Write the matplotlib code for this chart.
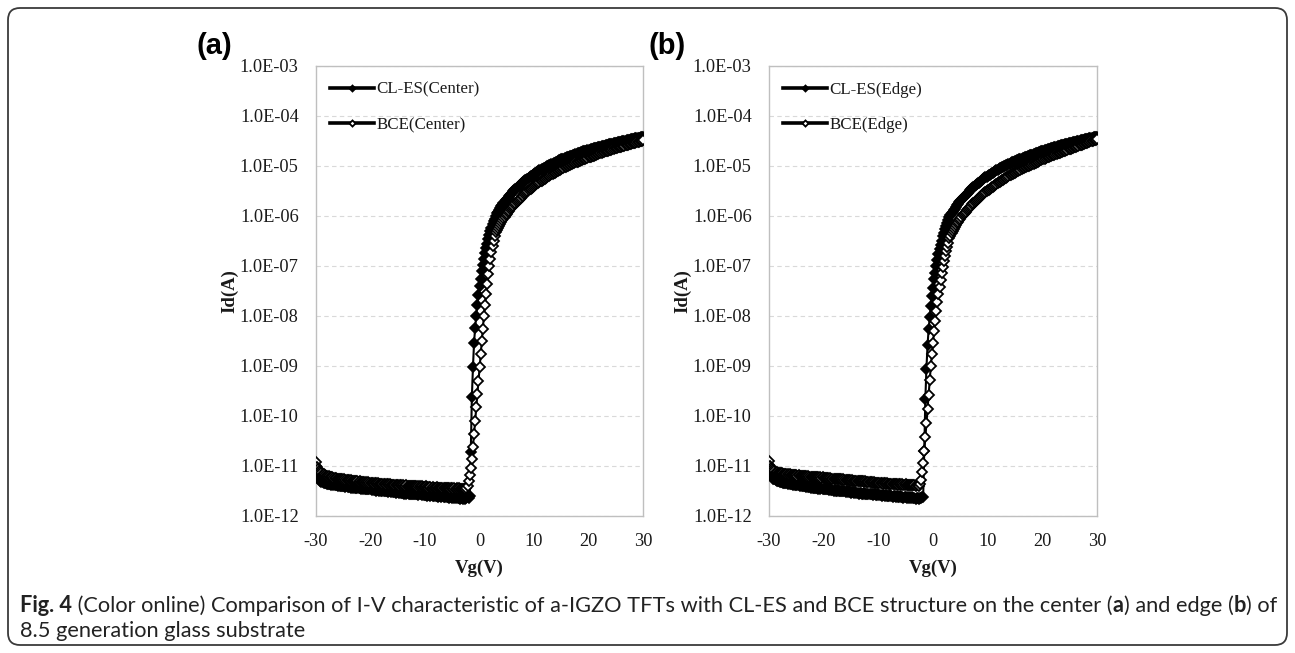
import numpy as np
import matplotlib
matplotlib.use("Agg")
import matplotlib.pyplot as plt
from matplotlib.patches import FancyBboxPatch
from matplotlib.transforms import IdentityTransform
from matplotlib.ticker import NullLocator
from matplotlib.font_manager import FontProperties

# ---------------- data ----------------
VG_START, VG_STOP, VG_STEP = -30.0, 30.0, 0.2
vg = np.round(np.arange(VG_START, VG_STOP + VG_STEP / 2, VG_STEP), 1)

id_cles_center = [
    1.0e-11, 7.4e-12, 6.2e-12, 5.5e-12, 5.1e-12, 4.8e-12, 4.7e-12, 4.6e-12, 4.5e-12, 4.5e-12,
    4.4e-12, 4.4e-12, 4.3e-12, 4.4e-12, 4.2e-12, 4.3e-12, 4.2e-12, 4.1e-12, 4.2e-12, 4.1e-12,
    4.0e-12, 4.1e-12, 4.0e-12, 3.9e-12, 4.0e-12, 3.9e-12, 4.0e-12, 3.8e-12, 3.9e-12, 3.8e-12,
    3.8e-12, 3.9e-12, 3.7e-12, 3.8e-12, 3.7e-12, 3.8e-12, 3.6e-12, 3.7e-12, 3.7e-12, 3.6e-12,
    3.6e-12, 3.5e-12, 3.6e-12, 3.5e-12, 3.6e-12, 3.4e-12, 3.5e-12, 3.5e-12, 3.4e-12, 3.5e-12,
    3.4e-12, 3.3e-12, 3.4e-12, 3.3e-12, 3.4e-12, 3.2e-12, 3.3e-12, 3.3e-12, 3.2e-12, 3.3e-12,
    3.2e-12, 3.1e-12, 3.2e-12, 3.2e-12, 3.1e-12, 3.2e-12, 3.0e-12, 3.1e-12, 3.1e-12, 3.0e-12,
    3.1e-12, 3.0e-12, 3.0e-12, 2.9e-12, 3.0e-12, 3.0e-12, 2.9e-12, 3.0e-12, 2.9e-12, 2.9e-12,
    2.9e-12, 2.8e-12, 2.9e-12, 2.8e-12, 2.9e-12, 2.8e-12, 2.8e-12, 2.7e-12, 2.8e-12, 2.8e-12,
    2.7e-12, 2.8e-12, 2.7e-12, 2.7e-12, 2.6e-12, 2.7e-12, 2.7e-12, 2.6e-12, 2.7e-12, 2.6e-12,
    2.6e-12, 2.6e-12, 2.5e-12, 2.6e-12, 2.6e-12, 2.5e-12, 2.6e-12, 2.5e-12, 2.5e-12, 2.6e-12,
    2.5e-12, 2.5e-12, 2.4e-12, 2.5e-12, 2.5e-12, 2.4e-12, 2.5e-12, 2.4e-12, 2.4e-12, 2.5e-12,
    2.4e-12, 2.4e-12, 2.3e-12, 2.4e-12, 2.4e-12, 2.3e-12, 2.4e-12, 2.3e-12, 2.3e-12, 2.4e-12,
    2.3e-12, 2.3e-12, 2.2e-12, 2.3e-12, 2.3e-12, 2.2e-12, 2.3e-12, 2.2e-12, 2.3e-12, 2.4e-12,
    2.3e-12, 2.5e-12, 1.9e-11, 2.4e-10, 9.5e-10, 2.9e-9, 5.8e-9, 1.0e-8, 1.66e-8, 2.6e-8,
    3.9e-8, 5.6e-8, 7.8e-8, 1.05e-7, 1.38e-7, 1.78e-7, 2.24e-7, 2.75e-7, 3.4e-7, 4.1e-7,
    4.9e-7, 5.75e-7, 6.8e-7, 7.8e-7, 8.9e-7, 1.02e-6,
    1.13e-6, 1.23e-6, 1.34e-6, 1.44e-6, 1.55e-6,
    1.68e-6, 1.81e-6, 1.93e-6, 2.06e-6, 2.19e-6,
    2.34e-6, 2.49e-6, 2.64e-6, 2.80e-6, 2.95e-6,
    3.12e-6, 3.29e-6, 3.46e-6, 3.63e-6, 3.80e-6,
    4.0e-6, 4.2e-6, 4.4e-6, 4.6e-6, 4.79e-6,
    4.98e-6, 5.17e-6, 5.37e-6, 5.56e-6, 5.75e-6,
    5.98e-6, 6.22e-6, 6.45e-6, 6.69e-6, 6.92e-6,
    7.16e-6, 7.4e-6, 7.65e-6, 7.89e-6, 8.13e-6,
    8.37e-6, 8.61e-6, 8.85e-6, 9.09e-6, 9.33e-6,
    9.6e-6, 9.9e-6, 1.02e-5, 1.05e-5, 1.07e-5,
    1.10e-5, 1.12e-5, 1.15e-5, 1.17e-5, 1.20e-5,
    1.23e-5, 1.26e-5, 1.29e-5, 1.32e-5, 1.35e-5,
    1.38e-5, 1.40e-5, 1.43e-5, 1.45e-5, 1.48e-5,
    1.51e-5, 1.54e-5, 1.56e-5, 1.59e-5, 1.62e-5,
    1.65e-5, 1.68e-5, 1.72e-5, 1.75e-5, 1.78e-5,
    1.81e-5, 1.85e-5, 1.88e-5, 1.92e-5, 1.95e-5,
    1.98e-5, 2.01e-5, 2.03e-5, 2.06e-5, 2.09e-5,
    2.12e-5, 2.15e-5, 2.18e-5, 2.21e-5, 2.24e-5,
    2.27e-5, 2.30e-5, 2.34e-5, 2.37e-5, 2.40e-5,
    2.43e-5, 2.47e-5, 2.50e-5, 2.54e-5, 2.57e-5,
    2.61e-5, 2.64e-5, 2.68e-5, 2.71e-5, 2.75e-5,
    2.78e-5, 2.80e-5, 2.83e-5, 2.85e-5, 2.88e-5,
    2.92e-5, 2.96e-5, 3.00e-5, 3.05e-5, 3.09e-5,
    3.12e-5, 3.15e-5, 3.18e-5, 3.21e-5, 3.24e-5,
    3.29e-5, 3.33e-5, 3.38e-5, 3.42e-5, 3.47e-5,
    3.50e-5, 3.53e-5, 3.57e-5, 3.60e-5, 3.63e-5,
    3.66e-5, 3.70e-5, 3.73e-5, 3.77e-5, 3.80e-5,
]

id_bce_center = [
    1.2e-11, 9.6e-12, 8.6e-12, 8.0e-12, 7.6e-12, 7.3e-12, 7.0e-12, 6.8e-12, 6.6e-12, 6.4e-12,
    6.3e-12, 6.1e-12, 6.2e-12, 6.0e-12, 5.9e-12, 6.0e-12, 5.8e-12, 5.7e-12, 5.8e-12, 5.6e-12,
    5.6e-12, 5.5e-12, 5.6e-12, 5.4e-12, 5.5e-12, 5.3e-12, 5.4e-12, 5.3e-12, 5.2e-12, 5.3e-12,
    5.2e-12, 5.1e-12, 5.2e-12, 5.0e-12, 5.1e-12, 5.0e-12, 4.9e-12, 5.0e-12, 4.9e-12, 4.8e-12,
    4.9e-12, 4.8e-12, 4.7e-12, 4.8e-12, 4.7e-12, 4.6e-12, 4.7e-12, 4.6e-12, 4.7e-12, 4.5e-12,
    4.6e-12, 4.5e-12, 4.6e-12, 4.4e-12, 4.5e-12, 4.5e-12, 4.4e-12, 4.5e-12, 4.3e-12, 4.4e-12,
    4.4e-12, 4.3e-12, 4.4e-12, 4.3e-12, 4.2e-12, 4.3e-12, 4.3e-12, 4.2e-12, 4.3e-12, 4.2e-12,
    4.2e-12, 4.1e-12, 4.2e-12, 4.2e-12, 4.1e-12, 4.2e-12, 4.0e-12, 4.1e-12, 4.1e-12, 4.0e-12,
    4.1e-12, 4.0e-12, 4.0e-12, 4.1e-12, 3.9e-12, 4.0e-12, 4.0e-12, 3.9e-12, 4.0e-12, 3.9e-12,
    3.9e-12, 4.0e-12, 3.9e-12, 3.8e-12, 3.9e-12, 3.9e-12, 3.8e-12, 3.9e-12, 3.8e-12, 3.8e-12,
    3.8e-12, 3.9e-12, 3.8e-12, 3.7e-12, 3.8e-12, 3.8e-12, 3.7e-12, 3.8e-12, 3.7e-12, 3.7e-12,
    3.7e-12, 3.8e-12, 3.7e-12, 3.6e-12, 3.7e-12, 3.7e-12, 3.6e-12, 3.7e-12, 3.6e-12, 3.6e-12,
    3.6e-12, 3.7e-12, 3.6e-12, 3.5e-12, 3.6e-12, 3.6e-12, 3.5e-12, 3.6e-12, 3.5e-12, 3.6e-12,
    3.5e-12, 3.6e-12, 3.5e-12, 3.5e-12, 3.4e-12, 3.5e-12, 3.5e-12, 3.4e-12, 3.55e-12, 4.0e-12,
    5.0e-12, 6.6e-12, 9.3e-12, 1.41e-11, 2.4e-11, 4.3e-11, 7.9e-11, 1.48e-10, 2.75e-10, 5.1e-10,
    9.5e-10, 1.74e-9, 3.16e-9, 5.6e-9, 9.8e-9, 1.66e-8, 2.75e-8, 4.4e-8, 6.8e-8, 1.0e-7,
    1.41e-7, 1.9e-7, 2.5e-7, 3.16e-7, 3.9e-7, 4.7e-7,
    5.26e-7, 5.85e-7, 6.43e-7, 7.01e-7, 7.59e-7,
    8.3e-7, 9.0e-7, 9.6e-7, 1.03e-6, 1.10e-6,
    1.18e-6, 1.26e-6, 1.35e-6, 1.43e-6, 1.51e-6,
    1.61e-6, 1.71e-6, 1.80e-6, 1.90e-6, 2.0e-6,
    2.11e-6, 2.23e-6, 2.34e-6, 2.46e-6, 2.57e-6,
    2.70e-6, 2.84e-6, 2.97e-6, 3.11e-6, 3.24e-6,
    3.39e-6, 3.54e-6, 3.68e-6, 3.83e-6, 3.98e-6,
    4.14e-6, 4.30e-6, 4.47e-6, 4.63e-6, 4.79e-6,
    4.96e-6, 5.12e-6, 5.29e-6, 5.45e-6, 5.62e-6,
    5.82e-6, 6.02e-6, 6.21e-6, 6.41e-6, 6.61e-6,
    6.81e-6, 7.0e-6, 7.2e-6, 7.39e-6, 7.59e-6,
    7.81e-6, 8.04e-6, 8.26e-6, 8.49e-6, 8.71e-6,
    8.97e-6, 9.23e-6, 9.48e-6, 9.74e-6, 1.0e-5,
    1.02e-5, 1.05e-5, 1.07e-5, 1.10e-5, 1.12e-5,
    1.14e-5, 1.16e-5, 1.19e-5, 1.21e-5, 1.23e-5,
    1.25e-5, 1.28e-5, 1.30e-5, 1.33e-5, 1.35e-5,
    1.38e-5, 1.40e-5, 1.43e-5, 1.45e-5, 1.48e-5,
    1.51e-5, 1.54e-5, 1.56e-5, 1.59e-5, 1.62e-5,
    1.65e-5, 1.68e-5, 1.72e-5, 1.75e-5, 1.78e-5,
    1.81e-5, 1.85e-5, 1.88e-5, 1.92e-5, 1.95e-5,
    1.98e-5, 2.01e-5, 2.03e-5, 2.06e-5, 2.09e-5,
    2.13e-5, 2.17e-5, 2.21e-5, 2.25e-5, 2.29e-5,
    2.32e-5, 2.35e-5, 2.39e-5, 2.42e-5, 2.45e-5,
    2.49e-5, 2.52e-5, 2.56e-5, 2.59e-5, 2.63e-5,
    2.67e-5, 2.71e-5, 2.74e-5, 2.78e-5, 2.82e-5,
    2.86e-5, 2.90e-5, 2.94e-5, 2.98e-5, 3.02e-5,
    3.06e-5, 3.11e-5, 3.15e-5, 3.20e-5, 3.24e-5,
]

id_cles_edge = [
    1.05e-11, 7.8e-12, 6.6e-12, 6.0e-12, 5.6e-12, 5.4e-12, 5.2e-12, 5.1e-12, 5.0e-12, 4.9e-12,
    4.8e-12, 4.7e-12, 4.8e-12, 4.6e-12, 4.6e-12, 4.5e-12, 4.6e-12, 4.4e-12, 4.5e-12, 4.4e-12,
    4.3e-12, 4.4e-12, 4.2e-12, 4.3e-12, 4.2e-12, 4.1e-12, 4.2e-12, 4.1e-12, 4.0e-12, 4.1e-12,
    4.0e-12, 3.9e-12, 4.0e-12, 3.9e-12, 3.8e-12, 3.9e-12, 3.8e-12, 3.8e-12, 3.7e-12, 3.8e-12,
    3.7e-12, 3.7e-12, 3.6e-12, 3.7e-12, 3.6e-12, 3.5e-12, 3.6e-12, 3.5e-12, 3.6e-12, 3.5e-12,
    3.5e-12, 3.4e-12, 3.5e-12, 3.4e-12, 3.4e-12, 3.3e-12, 3.4e-12, 3.3e-12, 3.3e-12, 3.2e-12,
    3.3e-12, 3.2e-12, 3.2e-12, 3.3e-12, 3.1e-12, 3.2e-12, 3.1e-12, 3.2e-12, 3.1e-12, 3.1e-12,
    3.0e-12, 3.1e-12, 3.0e-12, 3.1e-12, 3.0e-12, 2.9e-12, 3.0e-12, 3.0e-12, 2.9e-12, 3.0e-12,
    2.9e-12, 2.9e-12, 2.8e-12, 2.9e-12, 2.9e-12, 2.8e-12, 2.8e-12, 2.9e-12, 2.8e-12, 2.7e-12,
    2.8e-12, 2.7e-12, 2.8e-12, 2.7e-12, 2.7e-12, 2.6e-12, 2.7e-12, 2.7e-12, 2.6e-12, 2.6e-12,
    2.7e-12, 2.6e-12, 2.6e-12, 2.5e-12, 2.6e-12, 2.6e-12, 2.5e-12, 2.6e-12, 2.5e-12, 2.5e-12,
    2.5e-12, 2.6e-12, 2.5e-12, 2.4e-12, 2.5e-12, 2.5e-12, 2.4e-12, 2.5e-12, 2.4e-12, 2.4e-12,
    2.5e-12, 2.4e-12, 2.4e-12, 2.3e-12, 2.4e-12, 2.4e-12, 2.3e-12, 2.4e-12, 2.3e-12, 2.4e-12,
    2.3e-12, 2.4e-12, 2.3e-12, 2.3e-12, 2.2e-12, 2.3e-12, 2.3e-12, 2.2e-12, 2.3e-12, 2.3e-12,
    2.4e-12, 2.4e-12, 2.0e-11, 2.2e-10, 8.9e-10, 2.6e-9, 5.4e-9, 9.5e-9, 1.6e-8, 2.5e-8,
    3.7e-8, 5.4e-8, 7.4e-8, 1.0e-7, 1.32e-7, 1.7e-7, 2.14e-7, 2.63e-7, 3.2e-7, 3.9e-7,
    4.6e-7, 5.4e-7, 6.3e-7, 7.2e-7, 8.3e-7, 9.5e-7,
    1.04e-6, 1.13e-6, 1.22e-6, 1.32e-6, 1.41e-6,
    1.53e-6, 1.65e-6, 1.76e-6, 1.88e-6, 2.0e-6,
    2.13e-6, 2.25e-6, 2.38e-6, 2.50e-6, 2.63e-6,
    2.78e-6, 2.93e-6, 3.09e-6, 3.24e-6, 3.39e-6,
    3.57e-6, 3.74e-6, 3.92e-6, 4.09e-6, 4.27e-6,
    4.47e-6, 4.66e-6, 4.86e-6, 5.05e-6, 5.25e-6,
    5.46e-6, 5.67e-6, 5.89e-6, 6.10e-6, 6.31e-6,
    6.53e-6, 6.75e-6, 6.97e-6, 7.19e-6, 7.41e-6,
    7.67e-6, 7.93e-6, 8.19e-6, 8.45e-6, 8.71e-6,
    8.97e-6, 9.23e-6, 9.48e-6, 9.74e-6, 1.0e-5,
    1.02e-5, 1.05e-5, 1.07e-5, 1.10e-5, 1.12e-5,
    1.15e-5, 1.18e-5, 1.20e-5, 1.23e-5, 1.26e-5,
    1.28e-5, 1.31e-5, 1.33e-5, 1.36e-5, 1.38e-5,
    1.41e-5, 1.43e-5, 1.46e-5, 1.48e-5, 1.51e-5,
    1.54e-5, 1.57e-5, 1.60e-5, 1.63e-5, 1.66e-5,
    1.69e-5, 1.72e-5, 1.76e-5, 1.79e-5, 1.82e-5,
    1.86e-5, 1.89e-5, 1.93e-5, 1.96e-5, 2.0e-5,
    2.03e-5, 2.06e-5, 2.08e-5, 2.11e-5, 2.14e-5,
    2.18e-5, 2.22e-5, 2.26e-5, 2.30e-5, 2.34e-5,
    2.37e-5, 2.41e-5, 2.44e-5, 2.48e-5, 2.51e-5,
    2.55e-5, 2.58e-5, 2.62e-5, 2.65e-5, 2.69e-5,
    2.73e-5, 2.77e-5, 2.80e-5, 2.84e-5, 2.88e-5,
    2.91e-5, 2.94e-5, 2.96e-5, 2.99e-5, 3.02e-5,
    3.06e-5, 3.11e-5, 3.15e-5, 3.20e-5, 3.24e-5,
    3.29e-5, 3.33e-5, 3.38e-5, 3.42e-5, 3.47e-5,
    3.50e-5, 3.53e-5, 3.57e-5, 3.60e-5, 3.63e-5,
    3.68e-5, 3.73e-5, 3.79e-5, 3.84e-5, 3.89e-5,
]

id_bce_edge = [
    1.25e-11, 1.0e-11, 9.2e-12, 8.6e-12, 8.2e-12, 7.9e-12, 7.7e-12, 7.6e-12, 7.4e-12, 7.3e-12,
    7.2e-12, 7.1e-12, 7.2e-12, 7.0e-12, 6.9e-12, 7.0e-12, 6.8e-12, 6.9e-12, 6.7e-12, 6.8e-12,
    6.7e-12, 6.6e-12, 6.7e-12, 6.5e-12, 6.6e-12, 6.5e-12, 6.4e-12, 6.5e-12, 6.4e-12, 6.3e-12,
    6.4e-12, 6.3e-12, 6.2e-12, 6.3e-12, 6.2e-12, 6.1e-12, 6.2e-12, 6.1e-12, 6.1e-12, 6.0e-12,
    6.1e-12, 6.0e-12, 6.0e-12, 5.9e-12, 6.0e-12, 5.9e-12, 5.8e-12, 5.9e-12, 5.8e-12, 5.9e-12,
    5.8e-12, 5.7e-12, 5.8e-12, 5.7e-12, 5.7e-12, 5.6e-12, 5.7e-12, 5.6e-12, 5.6e-12, 5.5e-12,
    5.6e-12, 5.5e-12, 5.5e-12, 5.4e-12, 5.5e-12, 5.4e-12, 5.4e-12, 5.3e-12, 5.4e-12, 5.3e-12,
    5.3e-12, 5.2e-12, 5.3e-12, 5.2e-12, 5.2e-12, 5.1e-12, 5.2e-12, 5.1e-12, 5.1e-12, 5.0e-12,
    5.1e-12, 5.0e-12, 5.0e-12, 4.9e-12, 5.0e-12, 4.9e-12, 4.9e-12, 4.8e-12, 4.9e-12, 4.8e-12,
    4.8e-12, 4.7e-12, 4.8e-12, 4.7e-12, 4.7e-12, 4.6e-12, 4.7e-12, 4.6e-12, 4.6e-12, 4.5e-12,
    4.6e-12, 4.5e-12, 4.5e-12, 4.6e-12, 4.4e-12, 4.5e-12, 4.5e-12, 4.4e-12, 4.5e-12, 4.4e-12,
    4.4e-12, 4.3e-12, 4.4e-12, 4.4e-12, 4.3e-12, 4.4e-12, 4.3e-12, 4.3e-12, 4.2e-12, 4.3e-12,
    4.3e-12, 4.2e-12, 4.3e-12, 4.2e-12, 4.2e-12, 4.3e-12, 4.1e-12, 4.2e-12, 4.2e-12, 4.1e-12,
    4.2e-12, 4.1e-12, 4.1e-12, 4.2e-12, 4.0e-12, 4.1e-12, 4.1e-12, 4.0e-12, 4.27e-12, 5.37e-12,
    7.59e-12, 1.17e-11, 2.0e-11, 3.72e-11, 7.08e-11, 1.38e-10, 2.63e-10, 5.13e-10, 1.0e-9, 1.74e-9,
    2.95e-9, 4.9e-9, 7.94e-9, 1.26e-8, 1.91e-8, 2.75e-8, 3.89e-8, 5.37e-8, 7.24e-8, 9.55e-8,
    1.26e-7, 1.58e-7, 2.0e-7, 2.45e-7, 2.95e-7, 3.55e-7,
    4.05e-7, 4.54e-7, 5.04e-7, 5.53e-7, 6.03e-7,
    6.61e-7, 7.19e-7, 7.76e-7, 8.34e-7, 8.91e-7,
    9.6e-7, 1.03e-6, 1.09e-6, 1.16e-6, 1.23e-6,
    1.31e-6, 1.39e-6, 1.46e-6, 1.54e-6, 1.62e-6,
    1.71e-6, 1.81e-6, 1.90e-6, 2.0e-6, 2.09e-6,
    2.20e-6, 2.31e-6, 2.41e-6, 2.52e-6, 2.63e-6,
    2.75e-6, 2.87e-6, 3.0e-6, 3.12e-6, 3.24e-6,
    3.37e-6, 3.50e-6, 3.63e-6, 3.76e-6, 3.89e-6,
    4.05e-6, 4.21e-6, 4.36e-6, 4.52e-6, 4.68e-6,
    4.84e-6, 5.01e-6, 5.17e-6, 5.34e-6, 5.5e-6,
    5.69e-6, 5.88e-6, 6.08e-6, 6.27e-6, 6.46e-6,
    6.65e-6, 6.84e-6, 7.03e-6, 7.22e-6, 7.41e-6,
    7.63e-6, 7.85e-6, 8.07e-6, 8.29e-6, 8.51e-6,
    8.72e-6, 8.92e-6, 9.13e-6, 9.34e-6, 9.55e-6,
    9.78e-6, 1.0e-5, 1.02e-5, 1.05e-5, 1.07e-5,
    1.10e-5, 1.12e-5, 1.15e-5, 1.17e-5, 1.20e-5,
    1.23e-5, 1.26e-5, 1.29e-5, 1.32e-5, 1.35e-5,
    1.38e-5, 1.41e-5, 1.45e-5, 1.48e-5, 1.51e-5,
    1.54e-5, 1.57e-5, 1.60e-5, 1.63e-5, 1.66e-5,
    1.69e-5, 1.72e-5, 1.76e-5, 1.79e-5, 1.82e-5,
    1.86e-5, 1.89e-5, 1.93e-5, 1.96e-5, 2.0e-5,
    2.04e-5, 2.08e-5, 2.11e-5, 2.15e-5, 2.19e-5,
    2.23e-5, 2.27e-5, 2.32e-5, 2.36e-5, 2.4e-5,
    2.45e-5, 2.49e-5, 2.54e-5, 2.58e-5, 2.63e-5,
    2.68e-5, 2.73e-5, 2.78e-5, 2.83e-5, 2.88e-5,
    2.94e-5, 2.99e-5, 3.05e-5, 3.10e-5, 3.16e-5,
    3.21e-5, 3.25e-5, 3.30e-5, 3.34e-5, 3.39e-5,
]

x_ticks = [-30, -20, -10, 0, 10, 20, 30]
y_ticks = [1e-12, 1e-11, 1e-10, 1e-9, 1e-8, 1e-7, 1e-6, 1e-5, 1e-4, 1e-3]
y_tick_labels = ["1.0E-12", "1.0E-11", "1.0E-10", "1.0E-09", "1.0E-08",
                 "1.0E-07", "1.0E-06", "1.0E-05", "1.0E-04", "1.0E-03"]
legend_center = ["CL-ES(Center)", "BCE(Center)"]
legend_edge = ["CL-ES(Edge)", "BCE(Edge)"]
panel_labels = ["(a)", "(b)"]
x_label = "Vg(V)"
y_label = "Id(A)"

caption_line1 = [
    ("Fig. 4", "bold"),
    (" (Color online) Comparison of I-V characteristic of a-IGZO TFTs with CL-ES and BCE structure on the center (", "normal"),
    ("a", "bold"),
    (") and edge (", "normal"),
    ("b", "bold"),
    (") of", "normal"),
]
caption_line2 = [("8.5 generation glass substrate", "normal")]

for arr in (id_cles_center, id_bce_center, id_cles_edge, id_bce_edge):
    assert len(arr) == len(vg), len(arr)

# ---------------- figure ----------------
W, H = 1295, 653
fig = plt.figure(figsize=(W / 100, H / 100), dpi=100)
fig.patch.set_facecolor("white")

SERIF = ["Liberation Serif", "DejaVu Serif"]
SANS = ["Liberation Sans", "DejaVu Sans"]

frame = FancyBboxPatch((8, 8), W - 16, H - 16,
                       boxstyle="round,pad=0,rounding_size=12",
                       transform=IdentityTransform(), fill=False,
                       edgecolor="#3a3a3a", linewidth=1.3)
fig.patches.append(frame)


def px_axes(left, top, right, bottom):
    return [left / W, 1 - bottom / H, (right - left) / W, (bottom - top) / H]


axes_px = [(316, 66, 643, 516), (769, 66, 1097, 516)]
series = [(id_cles_center, id_bce_center, legend_center),
          (id_cles_edge, id_bce_edge, legend_edge)]
label_pos = [(196, 46), (649, 46)]

for k, ((l, t, r, b), (ycl, ybce, leg), (lx, ly)) in enumerate(zip(axes_px, series, label_pos)):
    ax = fig.add_axes(px_axes(l, t, r, b))
    ax.set_yscale("log")
    ax.plot(vg, ycl, color="black", lw=1.5, marker="D", ms=5.2,
            mfc="black", mec="black", mew=1.2, label=leg[0], zorder=3)
    ax.plot(vg, ybce, color="black", lw=1.5, marker="D", ms=5.2,
            mfc="white", mec="black", mew=1.3, label=leg[1], zorder=4)
    ax.set_xlim(-30, 30)
    ax.set_ylim(1e-12, 1e-3)
    ax.set_xticks(x_ticks)
    ax.set_xticklabels([str(v) for v in x_ticks])
    ax.set_yticks(y_ticks)
    ax.set_yticklabels(y_tick_labels)
    ax.yaxis.set_minor_locator(NullLocator())
    ax.tick_params(axis="both", which="both", length=0, labelsize=13.2, colors="#1a1a1a")
    ax.tick_params(axis="y", pad=12.5)
    ax.tick_params(axis="x", pad=12.5)
    for lab in ax.get_xticklabels() + ax.get_yticklabels():
        lab.set_fontfamily(SERIF)
    for sp in ax.spines.values():
        sp.set_color("#BFBFBF")
        sp.set_linewidth(1.0)
    ax.yaxis.grid(True, color="#D9D9D9", linestyle=(0, (4, 3)), linewidth=0.8)
    ax.set_axisbelow(True)
    ax.set_xlabel(x_label, fontfamily=SERIF, fontweight="bold", fontsize=13.5,
                  labelpad=6.5, color="#1a1a1a")
    ax.set_ylabel(y_label, fontfamily=SERIF, fontweight="bold", fontsize=13.5,
                  color="#1a1a1a")
    ax.yaxis.set_label_coords(-0.238, 0.5)
    lg = ax.legend(loc="upper left", bbox_to_anchor=(0.043, 0.965), frameon=False,
                   numpoints=1, handlelength=2.6, handletextpad=0.15,
                   labelspacing=1.15, borderpad=0, borderaxespad=0,
                   markerscale=0.6, prop=FontProperties(family=SERIF, size=12.2))
    for h in lg.legend_handles:
        h.set_linewidth(2.6)
    for txt in lg.get_texts():
        txt.set_color("#1a1a1a")
    fig.text(lx / W, 1 - ly / H, panel_labels[k], fontfamily=SANS, fontweight="bold",
             fontsize=21, ha="left", va="center", color="black")

# ---------------- caption ----------------
renderer = fig.canvas.get_renderer()
CAP_FAMILY = ["Lato", "DejaVu Sans"]


def run_width(s, weight, size):
    fp = FontProperties(family=CAP_FAMILY, weight=weight, size=size)
    t1 = fig.text(0, 0, "|" + s + "|", fontproperties=fp)
    t2 = fig.text(0, 0, "||", fontproperties=fp)
    w = t1.get_window_extent(renderer).width - t2.get_window_extent(renderer).width
    t1.remove()
    t2.remove()
    return w


def draw_runs(runs, x0, y_base, size):
    x = x0
    for s, weight in runs:
        fig.text(x / W, 1 - y_base / H, s, fontfamily=CAP_FAMILY, fontweight=weight,
                 fontsize=size, ha="left", va="baseline", color="#222222")
        x += run_width(s, weight, size)
    return x


trial = 12.0
total = sum(run_width(s, w, trial) for s, w in caption_line1)
cap_size = trial * (1276 - 20) / total
draw_runs(caption_line1, 20, 612, cap_size)
draw_runs(caption_line2, 20, 637, cap_size)

fig.savefig("out.png", dpi=100, facecolor="white")
